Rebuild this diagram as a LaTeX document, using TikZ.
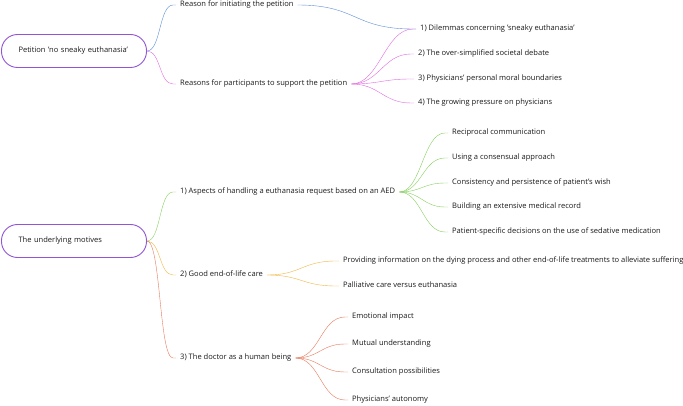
\documentclass[tikz,border=0pt]{standalone}
\usepackage{fontspec}
\setmainfont{Open Sans}
\definecolor{rootc}{HTML}{9155D6}
\definecolor{bluec}{HTML}{5A8ED8}
\definecolor{magc}{HTML}{E06BE0}
\definecolor{greenc}{HTML}{86CF5E}
\definecolor{orangec}{HTML}{F1B743}
\definecolor{redc}{HTML}{E7795A}
\tikzset{
  lbl/.style={anchor=west, font=\fontsize{7.55}{9}\selectfont, inner xsep=4pt, inner ysep=0pt, text height=5.5pt, text depth=1.6pt, text=black!90},
  rootbox/.style={draw=rootc, line width=0.9pt, rounded corners=16pt, minimum width=145pt, minimum height=33pt, text width=111pt, align=left, inner xsep=17pt, font=\fontsize{7.55}{9}\selectfont, text=black!90},
  conn/.style={line width=0.75pt, to path={.. controls +(#1,0) and +(-#1,0) .. ([xshift=-3pt]\tikztotarget) -- (\tikztotarget)}},
  conn/.default=14,
}
\begin{document}
\begin{tikzpicture}[x=1pt,y=-1pt]
\useasboundingbox (0,0) rectangle (683,406);
% roots
\node[rootbox] (r1) at (74,51) {Petition 'no sneaky euthanasia'};
\node[rootbox] (r2) at (74,241) {The underlying motives};
% level 1
\node[lbl] (a) at (176,5) {Reason for initiating the petition};
\node[lbl] (b) at (176,84) {Reasons for participants to support the petition};
\node[lbl] (b1) at (416,29) {1) Dilemmas concerning 'sneaky euthanasia'};
\node[lbl] (b2) at (414,54) {2) The over-simplified societal debate};
\node[lbl] (b3) at (414,79) {3) Physicians' personal moral boundaries};
\node[lbl] (b4) at (414,103) {4) The growing pressure on physicians};
\node[lbl] (c) at (176,192) {1) Aspects of handling a euthanasia request based on an AED};
\node[lbl] (d) at (176,275) {2) Good end-of-life care};
\node[lbl] (e) at (176,358) {3) The doctor as a human being};
\node[lbl] (c1) at (448,133) {Reciprocal communication};
\node[lbl] (c2) at (448,158) {Using a consensual approach};
\node[lbl] (c3) at (448,183) {Consistency and persistence of patient's wish};
\node[lbl] (c4) at (448,207) {Building an extensive medical record};
\node[lbl] (c5) at (448,232) {Patient-specific decisions on the use of sedative medication};
\node[lbl] (d1) at (339,261) {Providing information on the dying process and other end-of-life treatments to alleviate suffering};
\node[lbl] (d2) at (339,286) {Palliative care versus euthanasia};
\node[lbl] (e1) at (348,317) {Emotional impact};
\node[lbl] (e2) at (348,344) {Mutual understanding};
\node[lbl] (e3) at (348,372) {Consultation possibilities};
\node[lbl] (e4) at (348,400) {Physicians' autonomy};
% connectors
\draw[bluec] (r1.east) to[conn=14] (a.west);
\draw[bluec] (a.east) to[conn=60] (b1.west);
\draw[magc] (r1.east) to[conn=14] (b.west);
\foreach \t in {b1,b2,b3,b4} \draw[magc] (b.east) to[conn=28] (\t.west);
\draw[greenc] (r2.east) to[conn=14] (c.west);
\draw[orangec] (r2.east) to[conn=14] (d.west);
\draw[redc] (r2.east) to[conn=14] (e.west);
\foreach \t in {c1,c2,c3,c4,c5} \draw[greenc] (c.east) to[conn=22] (\t.west);
\foreach \t in {d1,d2} \draw[orangec] (d.east) to[conn=34] (\t.west);
\foreach \t in {e1,e2,e3,e4} \draw[redc] (e.east) to[conn=24] (\t.west);
\end{tikzpicture}
\end{document}
